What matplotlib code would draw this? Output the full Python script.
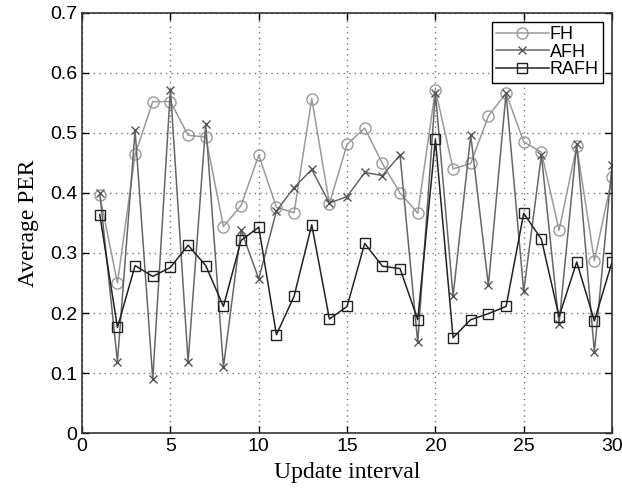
import matplotlib
matplotlib.use("Agg")
import matplotlib.pyplot as plt

x = list(range(1, 31))
fh = [0.396, 0.25, 0.464, 0.552, 0.552, 0.496, 0.493, 0.344, 0.379, 0.463,
      0.376, 0.367, 0.557, 0.382, 0.481, 0.508, 0.449, 0.40, 0.366, 0.572,
      0.44, 0.449, 0.528, 0.566, 0.485, 0.468, 0.338, 0.478, 0.287, 0.426]
afh = [0.40, 0.119, 0.504, 0.09, 0.572, 0.119, 0.514, 0.11, 0.338, 0.257,
       0.37, 0.409, 0.439, 0.383, 0.394, 0.434, 0.429, 0.463, 0.151, 0.566,
       0.228, 0.496, 0.246, 0.566, 0.236, 0.463, 0.182, 0.482, 0.135, 0.446]
rafh = [0.364, 0.176, 0.279, 0.261, 0.276, 0.313, 0.279, 0.211, 0.321, 0.343,
        0.164, 0.228, 0.347, 0.19, 0.211, 0.316, 0.278, 0.274, 0.189, 0.489,
        0.159, 0.189, 0.199, 0.211, 0.366, 0.323, 0.194, 0.285, 0.187, 0.285]
xticks = [0, 5, 10, 15, 20, 25, 30]
yticks = [0, 0.1, 0.2, 0.3, 0.4, 0.5, 0.6, 0.7]
ytick_labels = ["0", "0.1", "0.2", "0.3", "0.4", "0.5", "0.6", "0.7"]

fig = plt.figure(figsize=(6.22, 4.90), dpi=100)
ax = fig.add_axes([0.132, 0.116, 0.852, 0.858])

ax.plot(x, fh, color="#9a9a9a", lw=1.1, marker="o", ms=8, mfc="none",
        mec="#9a9a9a", mew=1.0, label="FH")
ax.plot(x, afh, color="#666666", lw=1.1, marker="x", ms=6, mec="#555555",
        mew=1.0, label="AFH")
ax.plot(x, rafh, color="#222222", lw=1.1, marker="s", ms=7, mfc="none",
        mec="#222222", mew=1.0, label="RAFH")

ax.set_xlim(0, 30)
ax.set_ylim(0, 0.7)
ax.set_xticks(xticks)
ax.set_yticks(yticks)
ax.set_yticklabels(ytick_labels)
ax.tick_params(direction="in", length=5, labelsize=14, top=True, right=True,
               width=1)
for lab in ax.get_xticklabels() + ax.get_yticklabels():
    lab.set_family("Liberation Sans")
ax.grid(True, linestyle=(0, (1, 3)), color="#777777", lw=1.0)
for s in ax.spines.values():
    s.set_linewidth(1.2)
    s.set_color("#333333")

ax.set_xlabel("Update interval", family="Liberation Serif", fontsize=17,
              labelpad=5)
ax.set_ylabel("Average PER", family="Liberation Serif", fontsize=17,
              labelpad=8)

leg = ax.legend(loc="upper right", prop={"family": "Liberation Sans", "size": 13},
                fancybox=False, framealpha=1, edgecolor="black",
                borderpad=0.25, labelspacing=0.02, handlelength=2.9,
                handletextpad=0.05, borderaxespad=0.5)
leg.get_frame().set_linewidth(1.0)

fig.savefig("out.png", dpi=100)
